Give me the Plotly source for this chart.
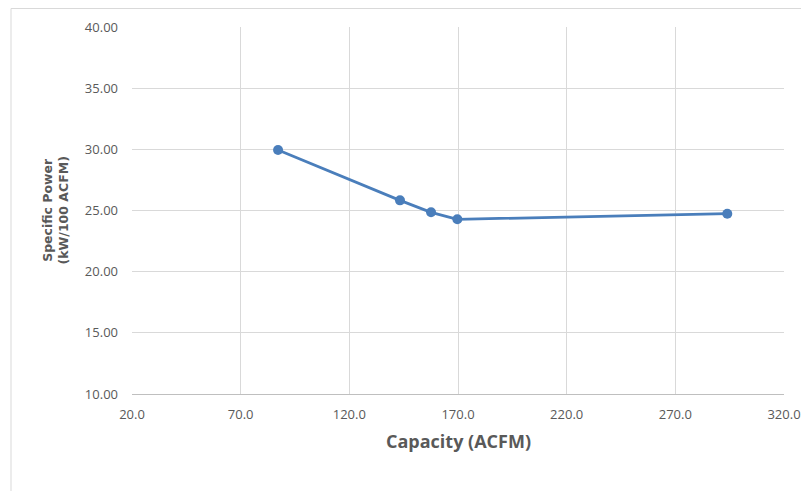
import plotly.graph_objects as go

capacity = [87.2, 143.3, 157.6, 169.7, 293.9]
specific_power = [29.95, 25.83, 24.85, 24.28, 24.74]

x_ticks = [20, 70, 120, 170, 220, 270, 320]
y_ticks = [10, 15, 20, 25, 30, 35, 40]

line_color = "#4a7ebb"
grid_color = "#d9d9d9"
text_color = "#595959"
font_family = "Open Sans, sans-serif"

fig = go.Figure()
fig.add_trace(go.Scatter(
    x=capacity, y=specific_power, mode="lines+markers",
    line=dict(color=line_color, width=2.75),
    marker=dict(color=line_color, size=10),
    showlegend=False,
))

W, H = 801, 483
L, R, T, B = 124, 25, 19, 97
PW, PH = W - L - R, H - T - B

fig.update_layout(
    width=W, height=H,
    margin=dict(l=L, r=R, t=T, b=B, autoexpand=False),
    paper_bgcolor="white", plot_bgcolor="white",
    font=dict(family=font_family, color=text_color, size=13),
    xaxis=dict(
        range=[20, 320], tickvals=x_ticks,
        ticktext=[f"{v:.1f}" for v in x_ticks],
        showgrid=True, gridcolor=grid_color, gridwidth=1,
        zeroline=False, showline=True, linecolor="#bfbfbf", linewidth=1,
        ticks="", ticklabelstandoff=8, automargin=False,
        tickfont=dict(size=13, color=text_color),
    ),
    yaxis=dict(
        range=[10, 40], tickvals=y_ticks,
        ticktext=[f"{v:.2f}" for v in y_ticks],
        showgrid=True, gridcolor=grid_color, gridwidth=1,
        zeroline=False, showline=False, ticks="", ticklabelstandoff=13,
        automargin=False,
        tickfont=dict(size=13, color=text_color),
    ),
    annotations=[
        dict(text="<b>Capacity (ACFM)</b>", xref="paper", yref="paper",
             x=0.5, y=-47 / PH, xanchor="center", yanchor="middle",
             showarrow=False, font=dict(size=18, color=text_color)),
        dict(text="<b>Specific Power<br>(kW/100 ACFM)</b>", xref="paper", yref="paper",
             x=(47 - L) / PW, y=0.5, xanchor="center", yanchor="middle",
             textangle=-90, showarrow=False,
             font=dict(family="DejaVu Sans, sans-serif", size=12.5, color=text_color)),
    ],
    shapes=[dict(
        type="rect", xref="paper", yref="paper",
        x0=(3 - L) / PW, x1=1.2, y0=-0.5, y1=1 + (T - 0.5) / PH,
        line=dict(color="#d9d9d9", width=1), fillcolor="rgba(0,0,0,0)", layer="below",
    )],
)

fig.write_html("out.html")
